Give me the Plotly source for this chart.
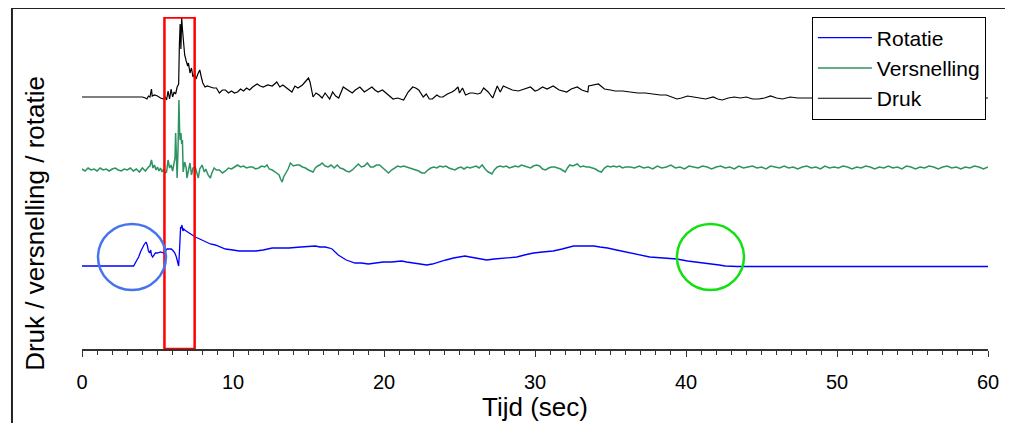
import plotly.graph_objects as go

# ---- data (arbitrary units) ----
druk_t = [0.0, 0.5, 1.0, 1.5, 2.0, 2.5, 3.0, 3.5, 4.0, 4.2, 4.3, 4.4, 4.5, 4.6, 4.65, 4.8,
          5.0, 5.2, 5.4, 5.5, 5.6, 5.7, 5.8, 5.9, 6.0, 6.1, 6.2, 6.3, 6.4, 6.45, 6.5, 6.55,
          6.6, 6.65, 6.7, 6.75, 6.8, 6.9, 7.0, 7.05, 7.15, 7.25, 7.35, 7.45, 7.55, 7.7, 7.8,
          7.9, 8.0, 8.15, 8.3, 8.5, 8.7, 8.9, 9.0, 9.1, 9.3, 9.5, 9.7, 9.9, 10.1, 10.3, 10.5,
          10.7, 10.9, 11.1, 11.3, 11.6, 11.8, 12.0, 12.3, 12.6, 12.9, 13.1, 13.3, 13.6, 13.9,
          14.1, 14.3, 14.6, 14.8, 15.0, 15.1, 15.3, 15.5, 15.7, 15.9, 16.1, 16.4, 16.6, 16.8,
          17.0, 17.3, 17.6, 17.9, 18.1, 18.4, 18.7, 19.0, 19.2, 19.4, 19.6, 19.9, 20.2, 20.4,
          20.6, 20.9, 21.1, 21.3, 21.6, 21.9, 22.1, 22.3, 22.6, 22.8, 23.0, 23.2, 23.5, 23.7,
          23.9, 24.2, 24.5, 24.7, 24.9, 25.0, 25.2, 25.4, 25.7, 25.9, 26.2, 26.4, 26.6, 26.9,
          27.2, 27.4, 27.5, 27.7, 27.9, 28.2, 28.5, 28.9, 29.3, 29.7, 30.0, 30.2, 30.5, 30.8,
          31.2, 31.6, 32.1, 32.4, 32.8, 33.1, 33.5, 33.55, 34.2, 34.6, 35.0, 35.3, 35.8, 36.3,
          36.8, 37.3, 37.8, 38.3, 38.7, 39.0, 39.4, 39.7, 40.1, 40.5, 40.9, 41.3, 41.8, 42.1,
          42.4, 42.8, 43.2, 43.6, 44.0, 44.4, 44.8, 45.2, 45.6, 46.0, 46.4, 46.9, 47.4, 48.0,
          50.0, 52.0, 55.0, 60.0]
druk_v = [252, 252, 252, 252, 252, 252, 252, 252, 252, 251, 250, 253, 252, 260, 253, 254,
          253, 251, 250, 252, 249, 258, 250, 260, 252, 257, 255, 262, 265, 305, 325, 300,
          332, 320, 310, 300, 294, 288, 283, 286, 276, 281, 272, 275, 270, 276, 279,
          272, 266, 262, 263, 262, 261, 261, 258, 256, 259, 259, 256, 258, 256, 257, 260,
          258, 261, 259, 262, 265, 263, 262, 264, 263, 267, 262, 264, 260, 257,
          263, 261, 264, 268, 271, 267, 252, 256, 254, 251, 256, 250, 257, 253,
          251, 262, 259, 256, 259, 262, 257, 260, 262, 259, 257, 259, 255, 252,
          250, 251, 250, 249, 257, 262, 261, 259, 252, 255, 250, 250, 254, 252,
          252, 255, 257, 259, 262, 256, 261, 254, 256, 256, 255, 256, 261, 257,
          251, 258, 263, 257, 263, 261, 259, 258, 260, 262, 258, 259, 262, 260,
          263, 259, 257, 260, 262, 259, 257, 263, 265, 260, 259, 258, 258, 257,
          256, 256, 255, 254, 254, 252, 250, 251, 253, 252, 251, 250, 252, 250,
          249, 251, 252, 251, 252, 250, 250, 251, 253, 251, 250, 252, 251, 251,
          251, 251, 251, 251]

vers_t = [0.0, 0.2, 0.4, 0.6, 0.8, 1.0, 1.2, 1.4, 1.6, 1.8, 2.0, 2.2, 2.4, 2.6, 2.8, 3.0,
          3.2, 3.4, 3.6, 3.8, 4.0, 4.2, 4.4, 4.5, 4.6, 4.7, 4.8, 4.9, 5.0, 5.1, 5.2, 5.3,
          5.4, 5.5, 5.6, 5.7, 5.8, 5.9, 6.0, 6.1, 6.16, 6.2, 6.27, 6.3, 6.36, 6.42, 6.47,
          6.5, 6.55, 6.6, 6.65, 6.7, 6.8, 6.9, 6.95, 7.05, 7.15, 7.25, 7.35, 7.5, 7.6, 7.7,
          7.8, 7.95, 8.1, 8.2, 8.35, 8.5, 8.6, 8.75, 8.9, 9.1, 9.3, 9.5, 9.7, 9.9, 10.1,
          10.3, 10.5, 10.7, 10.9, 11.1, 11.3, 11.5, 11.7, 11.9, 12.1, 12.25, 12.4, 12.6,
          12.8, 13.05, 13.15, 13.25, 13.35, 13.5, 13.65, 13.8, 14.0, 14.2, 14.4, 14.6,
          14.8, 15.0, 15.15, 15.3, 15.45, 15.6, 15.75, 15.9, 16.1, 16.3, 16.5, 16.7, 16.9,
          17.1, 17.3, 17.5, 17.7, 17.9, 18.1, 18.3, 18.5, 18.7, 18.9, 19.1, 19.3, 19.5,
          19.7, 19.9, 20.1, 20.3, 20.5, 20.7, 20.9, 21.1, 21.3, 21.5, 21.7, 21.9, 22.1,
          22.3, 22.5, 22.7, 22.9, 23.1, 23.3, 23.5, 23.7, 23.9, 24.1, 24.3, 24.5, 24.7,
          24.9, 25.1, 25.3, 25.5, 25.7, 25.9, 26.1, 26.3, 26.5, 26.7, 26.9, 27.05, 27.15,
          27.3, 27.5, 27.7, 27.9, 28.1, 28.3, 28.5, 28.7, 28.9, 29.1, 29.3, 29.5, 29.7,
          29.9, 30.1, 30.3, 30.5, 30.7, 30.9, 31.1, 31.3, 31.5, 31.7, 31.9, 32.0, 32.15,
          32.3, 32.5, 32.8, 33.0, 33.2, 33.4, 33.6, 33.8, 34.0, 34.2, 34.4, 34.6, 34.8,
          35.0, 35.2, 35.4, 35.6, 35.8, 36.0, 36.3, 36.6, 36.9, 37.2, 37.5, 37.8, 38.1,
          38.4, 38.7, 39.0, 39.3, 39.6, 39.9, 40.2, 40.5, 40.8, 41.1, 41.4, 41.7, 42.0,
          42.3, 42.6, 42.9, 43.2, 43.5, 43.8, 44.1, 44.4, 44.7, 45.0, 45.3, 45.6, 45.9,
          46.2, 46.5, 46.8, 47.1, 47.4, 47.7, 48.0, 48.3, 48.6, 48.9, 49.2, 49.5, 49.8,
          50.1, 50.4, 50.7, 51.0, 51.3, 51.6, 51.9, 52.2, 52.5, 52.8, 53.1, 53.4, 53.7,
          54.0, 54.3, 54.6, 54.9, 55.2, 55.5, 55.8, 56.1, 56.4, 56.7, 57.0, 57.3, 57.6,
          57.9, 58.2, 58.5, 58.8, 59.1, 59.4, 59.7, 60.0]
vers_v = [180, 178, 181, 179, 180, 178, 181, 179, 180, 178, 180, 181, 179, 178, 180, 179,
          181, 178, 180, 177, 181, 178, 182, 183, 189, 181, 184, 179, 182, 178, 181, 177,
          180, 176, 177, 189, 181, 184, 178, 186, 191, 216, 186, 171, 200, 249, 215,
          209, 216, 205, 209, 177, 187, 181, 171, 180, 186, 174, 181, 182, 176, 171,
          180, 184, 177, 180, 174, 171, 176, 181, 179, 179, 176, 178, 181, 180, 182,
          184, 182, 183, 181, 182, 182, 180, 181, 183, 182, 184, 180, 179,
          177, 174, 170, 167, 172, 176, 180, 186, 183, 184, 184, 182,
          181, 179, 178, 177, 181, 183, 184, 186, 183, 182, 184, 181, 184,
          181, 180, 178, 177, 179, 182, 185, 182, 183, 186, 182, 182, 184,
          184, 181, 179, 176, 179, 181, 183, 182, 183, 182, 181, 180, 179,
          178, 176, 176, 179, 181, 182, 181, 183, 182, 183, 181, 180, 179,
          181, 182, 180, 182, 181, 182, 183, 181, 184, 180, 177, 176, 175,
          179, 182, 183, 182, 183, 181, 182, 183, 182, 184, 183, 182, 181,
          183, 184, 183, 180, 179, 181, 182, 182, 181, 180, 178, 177, 181,
          184, 183, 185, 182, 183, 182, 182, 181, 180, 178, 177, 181, 183,
          182, 183, 182, 183, 181, 182, 182, 181, 183, 181, 182, 180, 183,
          181, 182, 184, 181, 182, 180, 183, 182, 181, 183, 182, 180, 182,
          183, 181, 182, 180, 183, 181, 182, 183, 181, 182, 180, 183, 182,
          181, 183, 181, 182, 180, 182, 183, 181, 182, 180, 183, 181, 182,
          181, 183, 182, 180, 182, 181, 183, 182, 180, 182, 181, 183, 181,
          182, 180, 183, 182, 180, 182, 181, 183, 182, 180, 182, 183, 181,
          182, 180, 182, 181, 183, 182, 180, 182]

rot_t = [0.0, 0.5, 1.0, 1.5, 2.0, 2.5, 3.0, 3.42, 3.6, 3.75, 3.9, 4.0, 4.1, 4.24, 4.32,
         4.4, 4.48, 4.55, 4.6, 4.68, 4.78, 4.86, 5.0, 5.2, 5.4, 5.63, 5.8, 5.92, 6.05,
         6.15, 6.25, 6.3, 6.4, 6.46, 6.5, 6.53, 6.58, 6.62, 6.68, 6.74, 6.8, 6.9, 7.06,
         7.3, 7.5, 7.8, 8.17, 8.5, 8.83, 9.2, 9.5, 10.0, 10.4, 11.0, 11.5, 12.0, 12.6,
         13.1, 13.7, 14.5, 15.45, 15.76, 16.1, 16.4, 16.56, 16.97, 17.5, 18.08, 18.5,
         18.96, 19.5, 19.95, 20.5, 21.17, 21.5, 21.94, 22.4, 22.83, 23.2, 23.6, 24.1,
         24.6, 25.0, 25.36, 25.7, 26.1, 26.5, 26.8, 27.3, 27.9, 28.3, 28.8, 29.3, 29.9,
         30.5, 31.2, 31.8, 32.55, 33.0, 33.4, 33.9, 34.3, 34.8, 35.4, 36.0, 36.5, 37.0,
         37.6, 38.5, 39.4, 40.1, 40.7, 41.2, 41.8, 42.2, 42.6, 43.0, 43.4, 45.0, 50.0,
         55.0, 60.0]
rot_v = [83, 83, 83, 83, 83, 83, 83, 83, 88, 92, 98, 102, 104, 107, 104,
         98, 96, 99, 94, 92, 94, 96, 96, 97, 96, 100, 100, 100, 98,
         96, 92, 89, 83, 99, 115, 122, 121, 124, 118, 120, 119, 118, 116,
         114, 112, 110, 107, 105, 104, 102, 100, 99, 98, 98, 98, 99, 101,
         101, 101, 102, 103, 102, 102, 101, 100, 94, 89, 86, 86,
         85, 86, 87, 87, 88, 87, 86, 85, 84, 85, 87, 89,
         91, 92, 93, 92, 91, 90, 89, 90, 91, 91, 92, 94, 96,
         97, 98, 100, 103, 103, 103, 103, 102, 101, 99, 97, 95, 94,
         92, 91, 90, 88, 87, 86, 85, 84, 83, 82.5, 82.5, 82.5, 82.5,
         82.5, 82.5]

series = [
    ("Rotatie", rot_t, rot_v, "#0000ff", 1.3),
    ("Versnelling", vers_t, vers_v, "#2e9363", 1.5),
    ("Druk", druk_t, druk_v, "#000000", 1.2),
]

# highlighted zones (x in sec, y in data units)
red_box = (5.46, 7.46, 0, 331.5)
blue_ring = (1.06, 5.56, 59, 125)
green_ring = (39.4, 43.84, 59, 125)

FONT = "Liberation Sans, Arial, sans-serif"

fig = go.Figure()
for name, t, v, col, w in series:
    fig.add_trace(go.Scatter(x=t, y=v, name=name, mode="lines",
                             line=dict(color=col, width=w)))

fig.add_shape(type="rect", x0=red_box[0], x1=red_box[1], y0=red_box[2], y1=red_box[3],
              line=dict(color="#ff0000", width=2.5))
fig.add_shape(type="circle", x0=blue_ring[0], x1=blue_ring[1], y0=blue_ring[2], y1=blue_ring[3],
              line=dict(color="#4575ee", width=2.5))
fig.add_shape(type="circle", x0=green_ring[0], x1=green_ring[1], y0=green_ring[2], y1=green_ring[3],
              line=dict(color="#11e011", width=2.5))
# outer chart frame
fig.add_shape(type="rect", xref="paper", yref="paper", x0=-0.0773, x1=1.0221, y0=-0.3, y1=1.0271,
              line=dict(color="#222222", width=2))

fig.add_annotation(text="Druk / versnelling / rotatie", xref="paper", yref="paper",
                   x=-0.0519, y=0.38, xanchor="center", yanchor="middle",
                   textangle=-90, showarrow=False,
                   font=dict(family=FONT, size=26, color="black"))
fig.add_annotation(text="Tijd (sec)", xref="paper", yref="paper",
                   x=0.5, y=-0.1747, xanchor="center", yanchor="middle", showarrow=False,
                   font=dict(family=FONT, size=26, color="black"))

fig.update_xaxes(range=[0, 60], tickvals=[0, 10, 20, 30, 40, 50, 60],
                 showline=True, linecolor="#333333", linewidth=1.5,
                 ticks="outside", ticklen=6, tickcolor="#333333", tickwidth=1,
                 minor=dict(dtick=1, ticks="outside", ticklen=4, tickcolor="#333333"),
                 ticklabelstandoff=8,
                 showgrid=False, zeroline=False,
                 tickfont=dict(family=FONT, size=20, color="black"))
fig.update_yaxes(range=[0, 332], showticklabels=False, showgrid=False,
                 zeroline=False, showline=False)

# page body has an 8px margin, so the figure is 8px smaller and margins shifted
fig.update_layout(
    width=1005, height=415,
    margin=dict(l=74, r=25, t=9, b=74),
    paper_bgcolor="white", plot_bgcolor="white",
    legend=dict(x=0.8056, y=1.0015, xanchor="left", yanchor="top",
                bgcolor="white", bordercolor="black", borderwidth=1,
                itemwidth=54,
                font=dict(family=FONT, size=21, color="black")),
)

fig.write_html("out.html")
